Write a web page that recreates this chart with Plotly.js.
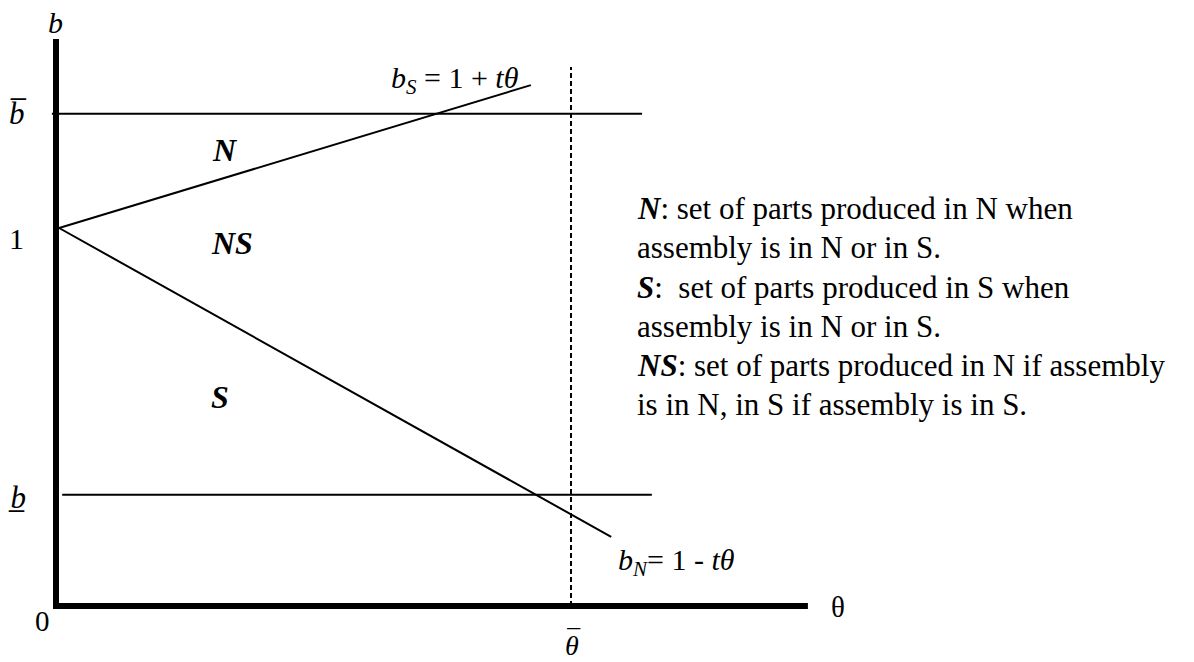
<!DOCTYPE html>
<html>
<head>
<meta charset="utf-8">
<script src="https://cdn.plot.ly/plotly-3.0.1.min.js"></script>
<style>html,body{margin:0;padding:0;background:#fff;}#chart{width:1194px;height:662px;}</style>
</head>
<body>
<div id="chart"></div>
<script>
// ---- data (theta on x, b on y) ----
var axisY_x = [0, 0, 1.46];
var axisY_y = [1.5, 0, 0];
var bS_x = [0.006, 0.922];
var bS_y = [1, 1.378];
var bN_x = [0.006, 1.078];
var bN_y = [1, 0.183];
var bBar_x = [-0.008, 1.138];
var bBar_y = [1.302, 1.302];
var bLow_x = [0.012, 1.157];
var bLow_y = [0.294, 0.294];
var thetaBar_x = [1, 1];
var thetaBar_y = [0, 1.426];

var legendLines = [
  "<b><i>N</i></b>: set of parts produced in N when",
  "assembly is in N or in S.",
  "<b><i>S</i></b>:  set of parts produced in S when",
  "assembly is in N or in S.",
  "<b><i>NS</i></b>: set of parts produced in N if assembly",
  "is in N, in S if assembly is in S."
];
var regionLabels = ["<b><i>N</i></b>", "<b><i>NS</i></b>", "<b><i>S</i></b>"];

// ---- pixel helpers for layout (plot area = full page) ----
var X0 = 56, XS = 515, Y0 = 606, YS = 378;
function dx(px){ return (px - X0) / XS; }
function dy(py){ return (Y0 - py) / YS; }

var F = "Liberation Serif, Times New Roman, serif";
function line(x, y, w, dash){
  return {x: x, y: y, mode: 'lines', type: 'scatter', hoverinfo: 'skip',
          line: {color: '#000', width: w, dash: dash || 'solid'}};
}
var traces = [
  line(bBar_x, bBar_y, 2),
  line(bLow_x, bLow_y, 2),
  line(bS_x, bS_y, 2),
  line(bN_x, bN_y, 2),
  line(thetaBar_x, thetaBar_y, 2, '5px,3px'),
  line(axisY_x, axisY_y, 6)
];

function ann(text, px, py, size, xanchor){
  return {text: text, x: dx(px), y: dy(py), xref: 'x', yref: 'y', showarrow: false,
          xanchor: xanchor || 'center', yanchor: 'middle',
          font: {family: F, size: size, color: '#000'}};
}
var anns = [
  ann("<i>b</i>", 55, 22, 30),
  ann("<i>b\u0305</i>", 18, 113, 31),
  ann("1", 16, 238, 30),
  ann("<i>b\u0332</i>", 17, 497, 31),
  ann("0", 42, 621, 29),
  ann("θ", 838, 607, 29),
  ann("<i>θ</i>", 572, 645, 28),
  ann("‾", 574, 643, 34),
  ann("<i>b<sub>S</sub></i> = 1 + <i>tθ</i>", 455, 80, 30),
  ann("<i>b<sub>N</sub></i>= 1 - <i>tθ</i>", 676, 562, 30),
  ann(regionLabels[0], 225, 150, 32),
  ann(regionLabels[1], 232, 243, 32),
  ann(regionLabels[2], 220, 397, 32)
];
var ly = [208, 247, 287, 326, 365, 404];
legendLines.forEach(function(t, i){ anns.push(ann(t, 635, ly[i], 31, 'left')); });

var layout = {
  width: 1194, height: 662,
  margin: {l: 0, r: 0, t: 0, b: 0},
  paper_bgcolor: '#fff', plot_bgcolor: '#fff',
  showlegend: false,
  xaxis: {range: [dx(0), dx(1194)], visible: false, fixedrange: true},
  yaxis: {range: [dy(662), dy(0)], visible: false, fixedrange: true},
  annotations: anns
};
Plotly.newPlot('chart', traces, layout, {displayModeBar: false, staticPlot: true});
</script>
</body>
</html>
